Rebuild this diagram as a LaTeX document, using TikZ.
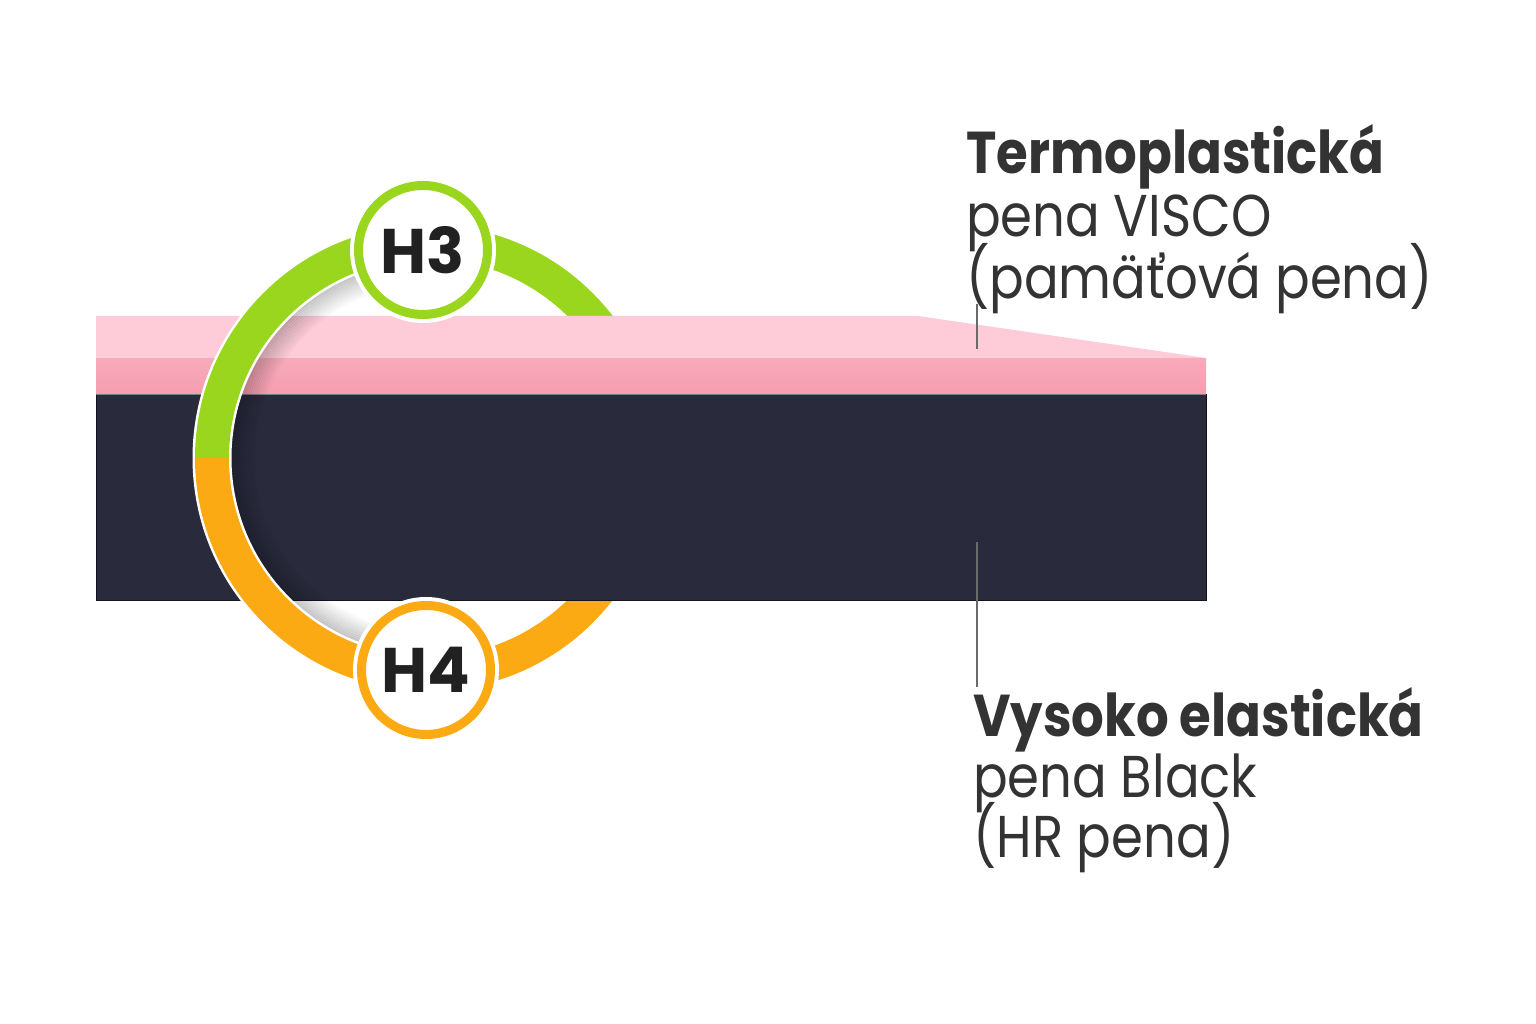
\documentclass[tikz,border=0pt]{standalone}
\usepackage{fontspec}
\setmainfont{Poppins}
\newfontfamily\labelfont[FakeStretch=0.87]{Poppins}
\definecolor{lpink}{HTML}{FDCCD8}
\definecolor{dpinktop}{HTML}{F8AABA}
\definecolor{dpinkbot}{HTML}{F59DB0}
\definecolor{navy}{HTML}{292A3C}
\definecolor{ringgreen}{HTML}{9BD61E}
\definecolor{ringorange}{HTML}{FCAA14}
\definecolor{txt}{HTML}{333333}
\definecolor{leadergray}{HTML}{6A6A6A}
\begin{document}
\begin{tikzpicture}[x=1pt,y=1pt,
  ringarc/.style={line width=34pt},
  badge/.style={circle, draw=#1, line width=9pt, fill=white, minimum size=129pt, inner sep=0pt,
     font=\fontsize{63}{63}\selectfont\bfseries, text=black!87},
  titleline/.style={anchor=base west, inner sep=0pt, text=txt, font=\labelfont\fontsize{59}{62}\selectfont\bfseries},
  plainline/.style={anchor=base west, inner sep=0pt, text=txt, font=\labelfont\fontsize{59}{62}\selectfont},
  leader/.style={draw=leadergray, line width=1.3pt}]
\useasboundingbox (0,0) rectangle (1536,1024);
\fill[white] (0,0) rectangle (1536,1024);

\coordinate (rc) at (428,566);

% right half of the ring (behind the mattress)
\draw[ringarc, ringgreen] (rc) ++(0:216pt) arc[start angle=0, end angle=90, radius=216pt];
\draw[ringarc, ringorange] (rc) ++(-90:216pt) arc[start angle=-90, end angle=0, radius=216pt];

% mattress layers
\fill[lpink] (96,708) -- (918,708) -- (1206,666) -- (1206,664) -- (96,664) -- cycle;
\shade[top color=dpinktop, bottom color=dpinkbot] (96,665) rectangle (1206,629);
\fill[navy] (96,629) rectangle (1206,423);
\draw[black!55!navy, line width=1pt] (96,629) rectangle (1206,423);
\draw[white, opacity=0.45, line width=1pt] (96,629.5) -- (1206,629.5);

% inner shadow of the front half
\foreach \i in {1,...,12}{
  \draw[black, opacity={0.22*(1-\i/13)}, line width=2.1pt]
    (rc) ++(97:{(198-2*\i)*1pt}) arc[start angle=97, end angle=263, radius={(198-2*\i)*1pt}];
}
% front (left) half of the ring
\draw[white, line width=39pt] (rc) ++(90:216pt) arc[start angle=90, end angle=270, radius=216pt];
\draw[ringarc, ringgreen] (rc) ++(90:216pt) arc[start angle=90, end angle=180, radius=216pt];
\draw[ringarc, ringorange] (rc) ++(180:216pt) arc[start angle=180, end angle=270, radius=216pt];

% badges
\fill[white] (423,774) circle[radius=73pt];
\fill[white] (426,354) circle[radius=73pt];
\node[badge=ringgreen] (h3) at (423,774) {H3};
\node[badge=ringorange] (h4) at (426,354) {H4};

% labels
\node[titleline] (t1) at (966,850) {Termoplastická};
\node[plainline] (t2) at (966,787) {pena VISCO};
\node[plainline] (t3) at (966,725) {(pamäťová pena)};

\node[titleline] (b1) at (973,287) {Vysoko elastická};
\node[plainline] (b2) at (973,226) {pena Black};
\node[plainline] (b3) at (973,166) {(HR pena)};

% leader lines
\coordinate (topA) at (977,675);
\coordinate (topB) at (977,720);
\coordinate (botA) at (977,482);
\coordinate (botB) at (977,337);
\draw[leader] (topA) -- (topB);
\draw[leader] (botA) -- (botB);
\end{tikzpicture}
\end{document}
